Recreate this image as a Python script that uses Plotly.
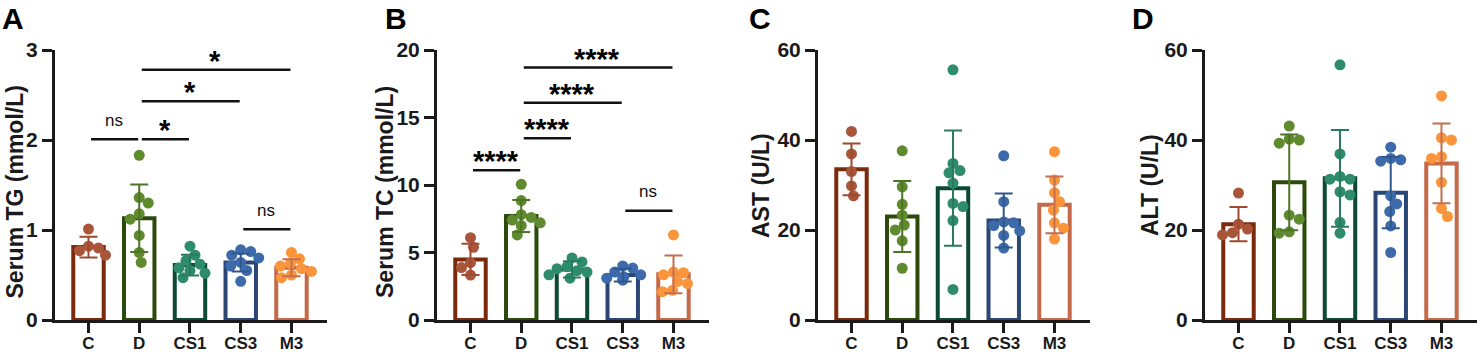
import plotly.graph_objects as go

W, H = 1477, 352

groups = ["C", "D", "CS1", "CS3", "M3"]

# ---- Panel A: Serum TG (mmol/L)
tg_points = [
    [1.01, 0.82, 0.80, 0.77, 0.72],
    [1.83, 1.36, 1.30, 1.18, 1.12, 0.94, 0.75, 0.64],
    [0.82, 0.72, 0.66, 0.62, 0.58, 0.55, 0.52, 0.47],
    [0.78, 0.76, 0.72, 0.69, 0.64, 0.60, 0.55, 0.43],
    [0.75, 0.68, 0.63, 0.60, 0.57, 0.54, 0.50, 0.47],
]
tg_mean = [0.81, 1.13, 0.61, 0.64, 0.58]
tg_sd = [0.115, 0.375, 0.115, 0.10, 0.095]

# ---- Panel B: Serum TC (mmol/L)
tc_points = [
    [6.10, 5.38, 4.25, 3.88, 3.33],
    [10.05, 8.85, 7.8, 7.6, 7.4, 7.2, 7.0, 6.3],
    [4.6, 4.3, 3.95, 3.8, 3.65, 3.55, 3.35, 3.1],
    [4.0, 3.85, 3.55, 3.35, 3.2, 3.1, 3.0, 2.95],
    [6.3, 3.55, 3.5, 3.35, 2.85, 2.7, 2.2, 2.1],
]
tc_mean = [4.49, 7.70, 3.75, 3.33, 3.38]
tc_sd = [1.16, 1.18, 0.60, 0.47, 1.40]

# ---- Panel C: AST (U/L)
ast_points = [
    [41.9, 36.9, 33.0, 29.8, 27.6],
    [37.6, 29.6, 25.7, 23.3, 21.1, 20.0, 17.6, 11.5],
    [55.6, 34.8, 33.2, 32.7, 30.4, 25.9, 25.2, 22.1, 6.8],
    [36.5, 26.3, 21.8, 21.6, 21.0, 19.8, 18.8, 16.0],
    [37.4, 31.1, 28.3, 26.3, 24.4, 21.6, 20.4, 18.0],
]
ast_mean = [33.5, 23.0, 29.3, 22.1, 25.6]
ast_sd = [5.75, 7.9, 12.8, 6.0, 6.3]

# ---- Panel D: ALT (U/L)
alt_points = [
    [28.2, 21.3, 20.2, 19.4, 18.9],
    [43.1, 40.2, 40.0, 39.3, 23.3, 22.4, 19.6, 19.3],
    [56.7, 36.9, 31.9, 31.3, 31.3, 28.5, 27.8, 21.7, 19.3],
    [38.4, 35.9, 35.6, 35.3, 27.6, 25.8, 24.1, 20.9, 15.0],
    [49.8, 40.5, 40.0, 36.3, 35.9, 30.6, 24.8, 23.0],
]
alt_mean = [21.3, 30.6, 31.5, 28.3, 34.8]
alt_sd = [3.8, 10.65, 10.75, 7.9, 8.85]

# significance comparisons: (left group, right group, bracket height, label)
tg_comparisons = [
    (0, 1, 2.007, "ns"),
    (1, 2, 2.007, "*"),
    (1, 3, 2.43, "*"),
    (1, 4, 2.78, "*"),
    (3, 4, 1.007, "ns"),
]
tc_comparisons = [
    (0, 1, 11.1, "****"),
    (1, 2, 13.46, "****"),
    (1, 3, 16.1, "****"),
    (1, 4, 18.7, "****"),
    (3, 4, 8.1, "ns"),
]

panels = [
    dict(letter="A", title="Serum TG (mmol/L)", pts=tg_points, mean=tg_mean, sd=tg_sd,
         ymax=3, dtick=1, comps=tg_comparisons),
    dict(letter="B", title="Serum TC (mmol/L)", pts=tc_points, mean=tc_mean, sd=tc_sd,
         ymax=20, dtick=5, comps=tc_comparisons),
    dict(letter="C", title="AST (U/L)", pts=ast_points, mean=ast_mean, sd=ast_sd,
         ymax=60, dtick=20, comps=[]),
    dict(letter="D", title="ALT (U/L)", pts=alt_points, mean=alt_mean, sd=alt_sd,
         ymax=60, dtick=20, comps=[]),
]

# styling
bar_line = ["#7B2A0C", "#2B4A0C", "#0D4A36", "#294675", "#C5694A"]
dot_col = ["#A8553A", "#5F8A2E", "#2E8C6C", "#3D6AAA", "#FA953C"]
err_col = ["#9E4A30", "#4E7526", "#2A7A62", "#30588E", "#C46E50"]
AX = "#1a1a1a"
FONT = "Liberation Sans, Arial, Helvetica, sans-serif"

axis_px = [55, 437, 818, 1205]      # left edge of each plot area (px)
plot_w = 272                         # plot width (px)
ytop_px, ybot_px = 50, 320           # plot top/bottom (px)
xr = [-0.66, 4.70]
ppx = plot_w / (xr[1] - xr[0])       # px per category unit
title_cx = [14.5, 385, 761, 1150]
title_cy = [192, 192, 185, 185]
letter_x = [0, 383, 747, 1130]


def swarm(vals, ppu_y, ppu_x, d=10.0, max_dx=24):
    placed, offs = [], []
    flip = 1
    for v in vals:
        y = v * ppu_y
        best = None
        for k in range(0, max_dx + 1):
            sides = [0] if k == 0 else [flip, -flip]
            for s in sides:
                dx = s * k
                if all((dx - px) ** 2 + (y - py) ** 2 >= d * d for px, py in placed):
                    best = dx
                    break
            if best is not None:
                break
        if best is None:
            best = 0
        if best != 0:
            flip = -flip
        placed.append((best, y))
        offs.append(best / ppu_x)
    return offs


fig = go.Figure()
ydom = [(H - ybot_px) / H, (H - ytop_px) / H]
annotations = []
shapes = []

for p_i, P in enumerate(panels):
    n = p_i + 1
    xa = "x" if n == 1 else f"x{n}"
    ya = "y" if n == 1 else f"y{n}"
    ppu_y = (ybot_px - ytop_px) / P["ymax"]
    xs = list(range(len(groups)))

    fig.add_trace(go.Bar(
        x=xs, y=P["mean"], width=0.6, xaxis=xa, yaxis=ya,
        marker=dict(color="white", line=dict(color=bar_line, width=4)),
        hoverinfo="skip",
    ))
    for g, vals in enumerate(P["pts"]):
        offs = swarm(vals, ppu_y, ppx)
        fig.add_trace(go.Scatter(
            x=[g + o for o in offs], y=vals, mode="markers", xaxis=xa, yaxis=ya,
            marker=dict(size=11, color=dot_col[g], line=dict(width=0)),
            cliponaxis=False, hoverinfo="skip",
        ))
    for g in range(len(groups)):
        fig.add_trace(go.Scatter(
            x=[g], y=[P["mean"][g]], mode="markers", xaxis=xa, yaxis=ya,
            marker=dict(size=1, color="rgba(0,0,0,0)"),
            error_y=dict(type="data", array=[P["sd"][g]], color=err_col[g],
                         thickness=2, width=9),
            cliponaxis=False, hoverinfo="skip",
        ))

    x0 = axis_px[p_i] / W
    x1 = min(1.0, (axis_px[p_i] + plot_w) / W)
    xkey = "xaxis" if n == 1 else f"xaxis{n}"
    ykey = "yaxis" if n == 1 else f"yaxis{n}"
    fig.update_layout(**{
        xkey: dict(domain=[x0, x1], range=xr, anchor=ya, tickmode="array",
                   tickvals=xs, ticktext=groups, ticks="outside", ticklen=10,
                   tickwidth=3, tickcolor=AX, showline=True, linewidth=3,
                   linecolor=AX, showgrid=False, zeroline=False, automargin=False,
                   ticklabelstandoff=-4,
                   tickfont=dict(family=FONT, size=17, color=AX, weight="bold")),
        ykey: dict(domain=ydom, range=[0, P["ymax"]], anchor=xa,
                   tickmode="linear", tick0=0, dtick=P["dtick"], ticks="outside",
                   ticklen=10, tickwidth=3, tickcolor=AX, showline=True,
                   linewidth=3, linecolor=AX, showgrid=False, zeroline=False,
                   automargin=False,
                   tickfont=dict(family=FONT, size=21, color=AX, weight="bold")),
    })

    annotations.append(dict(
        text=P["title"], textangle=-90, xref="paper", yref="paper",
        x=title_cx[p_i] / W, y=(H - title_cy[p_i]) / H,
        xanchor="center", yanchor="middle", showarrow=False,
        font=dict(family=FONT, size=23, color=AX, weight="bold"),
    ))
    annotations.append(dict(
        text=P["letter"], xref="paper", yref="paper",
        x=letter_x[p_i] / W, y=1.0, xanchor="left", yanchor="top",
        showarrow=False,
        font=dict(family=FONT, size=30, color="#000", weight="bold"),
    ))

    for (i, j, yl, lab) in P["comps"]:
        shapes.append(dict(type="line", xref=xa, yref=ya, x0=i + 0.05, x1=j - 0.02,
                           y0=yl, y1=yl, line=dict(color="#111", width=2.5)))
        if lab == "ns":
            annotations.append(dict(
                text="ns", xref=xa, yref=ya, x=(i + j) / 2, y=yl, yshift=19,
                xanchor="center", yanchor="middle", showarrow=False,
                font=dict(family=FONT, size=17, color="#111")))
        else:
            annotations.append(dict(
                text=lab, xref=xa, yref=ya, x=(i + j) / 2, y=yl, yshift=9,
                xanchor="center", yanchor="middle", showarrow=False,
                font=dict(family=FONT, size=29, color="#000", weight="bold")))

fig.update_layout(
    width=W, height=H, margin=dict(l=0, r=0, t=0, b=0, autoexpand=False),
    paper_bgcolor="white", plot_bgcolor="white", showlegend=False,
    annotations=annotations, shapes=shapes, barmode="overlay",
)

fig.write_html(
    "out.html",
    config={"displayModeBar": False},
    post_script="document.body.style.margin='0';document.body.style.overflow='hidden';",
)
